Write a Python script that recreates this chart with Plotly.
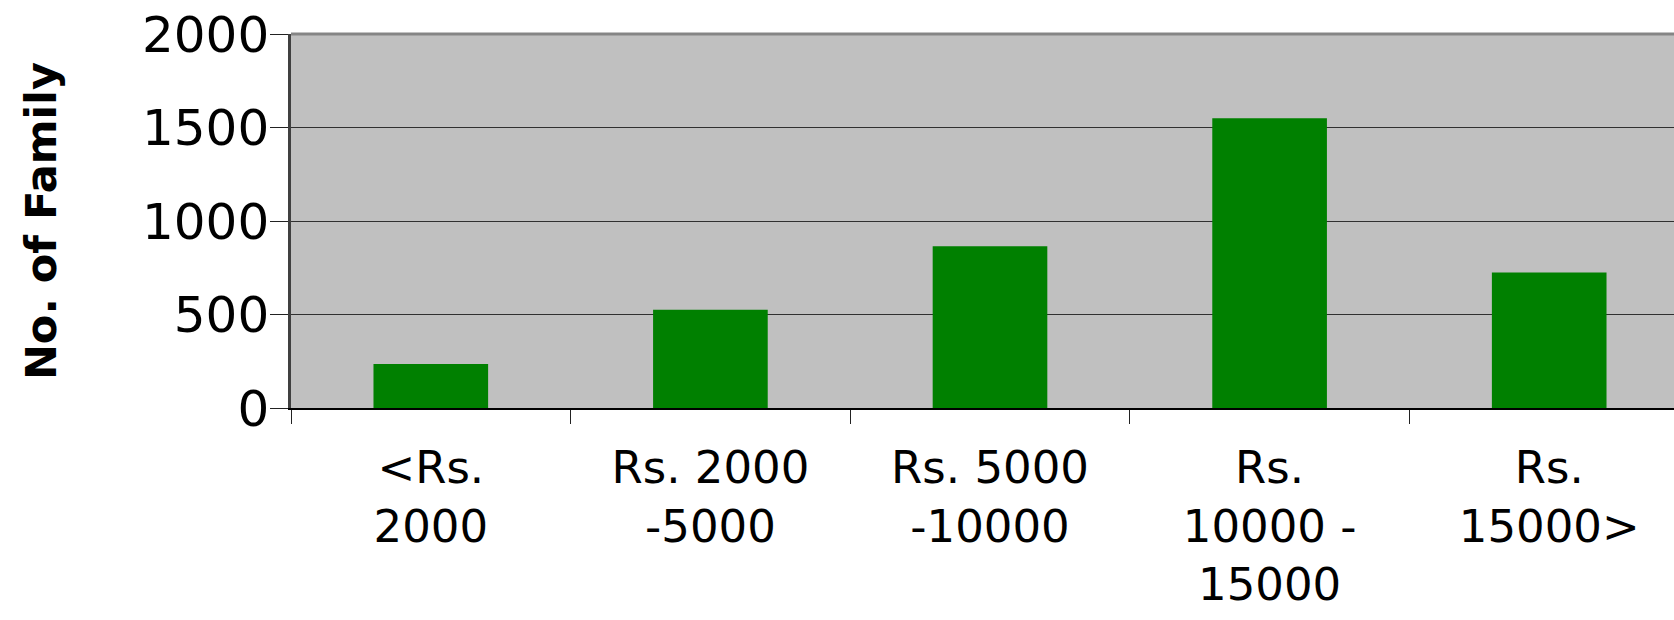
import plotly.graph_objects as go

categories = ["&lt;Rs.<br>2000", "Rs. 2000<br>-5000", "Rs. 5000<br>-10000",
              "Rs.<br>10000 -<br>15000", "Rs.<br>15000&gt;"]
families = [235, 525, 865, 1550, 725]
y_ticks = [0, 500, 1000, 1500, 2000]
y_title = "No. of Family"

W, H = 1674, 620
left, top, bottom = 291, 34, 212
cat_w = 279.6
x_end = -0.5 + (W - left) / cat_w

fig = go.Figure(go.Bar(x=categories, y=families, marker_color="#008000",
                       marker_line_width=0))

fig.update_layout(
    width=W, height=H,
    margin=dict(l=left, r=0, t=top, b=bottom, autoexpand=False),
    paper_bgcolor="white", plot_bgcolor="#c0c0c0",
    bargap=0.59, showlegend=False,
    font=dict(family="DejaVu Sans", color="black"),
)
fig.update_xaxes(
    type="category", range=[-0.5, x_end], tickson="boundaries",
    ticks="outside", ticklen=14, tickwidth=1, tickcolor="#222",
    showline=True, linecolor="black", linewidth=2,
    showgrid=False, tickfont=dict(size=45, family="DejaVu Sans"),
    ticklabelstandoff=19, automargin=False,
)
fig.update_yaxes(
    range=[0, 2000], tickvals=y_ticks, ticks="outside", ticklen=18,
    tickwidth=1, tickcolor="#222",
    showline=True, linecolor="#404040", linewidth=2.5,
    showgrid=True, gridcolor="#303030", gridwidth=1.3, zeroline=False,
    tickfont=dict(size=50, family="DejaVu Sans"),
    ticklabelstandoff=-9,
    title=dict(text="<b>" + y_title + "</b>", standoff=72,
               font=dict(size=43, family="DejaVu Sans")),
    automargin=False,
)
fig.add_shape(type="line", xref="paper", yref="paper", x0=0, x1=1, y0=1, y1=1,
              line=dict(color="#858585", width=3))
fig.write_html("out.html", config={"displayModeBar": False},
               post_script="document.body.style.margin='0';document.body.style.overflow='hidden';")
